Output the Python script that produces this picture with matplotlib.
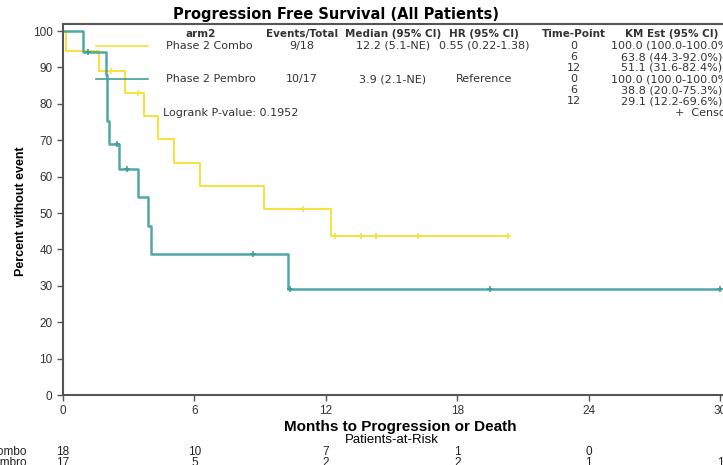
import numpy as np
import matplotlib
matplotlib.use("Agg")
import matplotlib.pyplot as plt
from matplotlib.lines import Line2D

# Kaplan-Meier steps (months, percent)
combo_t = [0, 0.15, 1.66, 2.83, 3.70, 4.35, 5.07, 6.26, 9.20, 12.24, 20.3]
combo_s = [100, 94.4, 88.9, 83.0, 76.6, 70.2, 63.8, 57.4, 51.1, 43.8, 43.8]
combo_cens = [2.2, 3.43, 10.96, 12.4, 13.6, 14.3, 16.2, 20.3]

pembro_t = [0, 0.93, 1.96, 2.03, 2.10, 2.57, 3.41, 3.90, 4.03, 10.27, 30.0]
pembro_s = [100, 94.1, 87.8, 75.3, 69.0, 62.1, 54.3, 46.5, 38.8, 29.1, 29.1]
pembro_cens = [1.16, 2.48, 2.9, 8.69, 10.36, 19.5, 30.0]

risk_times = [0, 6, 12, 18, 24, 30]
combo_risk = ["18", "10", "7", "1", "0", ""]
pembro_risk = ["17", "5", "2", "2", "1", "1"]

xticks = [0, 6, 12, 18, 24, 30]
yticks = [0, 10, 20, 30, 40, 50, 60, 70, 80, 90, 100]

# legend table
headers = ["arm2", "Events/Total", "Median (95% CI)", "HR (95% CI)", "Time-Point", "KM Est (95% CI)"]
arms = ["Phase 2 Combo", "Phase 2 Pembro"]
events = ["9/18", "10/17"]
medians = ["12.2 (5.1-NE)", "3.9 (2.1-NE)"]
hrs = ["0.55 (0.22-1.38)", "Reference"]
time_points = ["0", "6", "12"]
km_est = [["100.0 (100.0-100.0%)", "63.8 (44.3-92.0%)", "51.1 (31.6-82.4%)"],
          ["100.0 (100.0-100.0%)", "38.8 (20.0-75.3%)", "29.1 (12.2-69.6%)"]]
pvalue = "Logrank P-value: 0.1952"

yellow = "#F5E23C"
teal = "#3E9E9B"

W, H = 723, 465


def px(x, y):
    return x / W, 1 - y / H


def step_value(t, s, x):
    i = np.searchsorted(t, x, side="right") - 1
    return s[i]


fig = plt.figure(figsize=(W / 100, H / 100), dpi=100)
x0, x30, ytop, ybot = 63, 720, 24, 395
ppm = (x30 - x0) / 30.0
xmax = 31.0
ax = fig.add_axes([x0 / W, (H - ybot) / H, xmax * ppm / W, (ybot - ytop) / H])

ax.step(combo_t, combo_s, where="post", color=yellow, lw=1.4)
ax.step(pembro_t, pembro_s, where="post", color=teal, lw=1.8, alpha=0.9)
ax.plot(combo_cens, [step_value(combo_t, combo_s, c) for c in combo_cens], "+",
        color=yellow, ms=4, mew=1.2)
ax.plot(pembro_cens, [step_value(pembro_t, pembro_s, c) for c in pembro_cens], "+",
        color=teal, ms=4, mew=1.2)

ax.set_xlim(0, xmax)
ax.set_ylim(0, 100 + 7 / 3.64)
ax.set_xticks(xticks)
ax.set_yticks(yticks)
ax.tick_params(labelsize=8.5, length=4, width=1, color="#555555", labelcolor="#333333")
for tl in ax.get_xticklabels() + ax.get_yticklabels():
    tl.set_family("Liberation Sans")
for sp in ["left", "bottom", "top"]:
    ax.spines[sp].set_color("#555555")
    ax.spines[sp].set_linewidth(1.5)
ax.spines["right"].set_visible(False)

fig.text(*px(21.5, 211), "Percent without event", rotation=90, ha="center", va="center",
         fontsize=9, fontweight="bold", family="Liberation Sans")
fig.text(*px(400, 427), "Months to Progression or Death", ha="center", va="center",
         fontsize=11, fontweight="bold", family="Liberation Sans")
fig.text(*px(336, 15), "Progression Free Survival (All Patients)", ha="center", va="center",
         fontsize=10.5, fontweight="bold", family="DejaVu Sans")

# legend table
tf = dict(fontsize=8, family="DejaVu Sans", va="center", color="#333333")
hf = dict(tf, fontsize=7.5, fontweight="bold")
col_x = [201, 302, 393, 484, 574, 672]
for x, h in zip(col_x, headers):
    fig.text(*px(x, 34), h, ha="center", **hf)
row_y = [[46, 57, 68], [79, 90, 101]]
for i, col in enumerate([yellow, teal]):
    y = row_y[i][0]
    fig.add_artist(Line2D([96 / W, 148 / W], [1 - y / H] * 2, color=col, lw=1.2,
                          transform=fig.transFigure))
    fig.text(*px(166, y), arms[i], ha="left", **tf)
    fig.text(*px(col_x[1], y), events[i], ha="center", **tf)
    fig.text(*px(col_x[2], y), medians[i], ha="center", **tf)
    fig.text(*px(col_x[3], y), hrs[i], ha="center", **tf)
    for j, tp in enumerate(time_points):
        fig.text(*px(col_x[4], row_y[i][j]), tp, ha="center", **tf)
        fig.text(*px(col_x[5], row_y[i][j]), km_est[i][j], ha="center", **tf)
fig.text(*px(675, 113), "+  Censored", ha="left", **tf)
fig.text(*px(163, 113), pvalue, ha="left", **tf)

# patients at risk
fig.text(*px(392, 440), "Patients-at-Risk", ha="center", va="center", fontsize=9.5,
         family="Liberation Sans")
rf = dict(fontsize=8.5, family="Liberation Sans", va="center", color="#222222")
for label, vals, y in [(arms[0], combo_risk, 452), (arms[1], pembro_risk, 463)]:
    fig.text(*px(27, y), label, ha="right", **rf)
    for t, v in zip(risk_times, vals):
        fig.text(*px(x0 + t * ppm, y), v, ha="center", **rf)

fig.savefig("out.png", dpi=100)
